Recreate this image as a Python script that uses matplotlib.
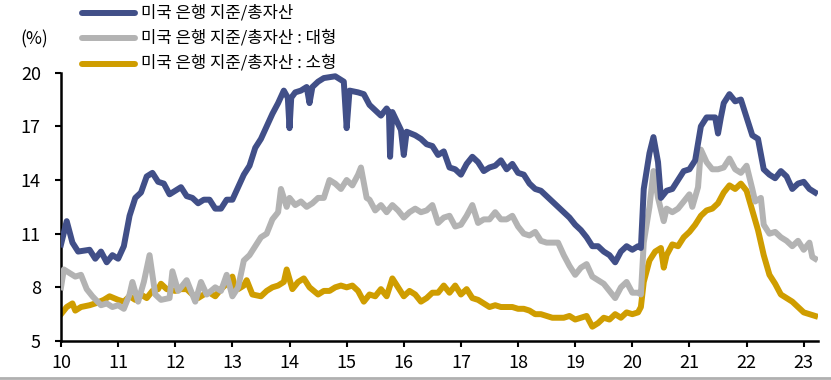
import numpy as np
import matplotlib
matplotlib.use('Agg')
import matplotlib.pyplot as plt
from matplotlib.lines import Line2D

plt.rcParams['font.family'] = ['Noto Sans CJK KR', 'DejaVu Sans']

# 미국 은행 지준/총자산 (전체) - 연도(2010=10) 기준
x_total = [10.0, 10.1, 10.2, 10.3, 10.5, 10.6, 10.7, 10.8, 10.9, 11.0, 11.1, 11.2, 11.3, 11.4, 11.5,
           11.6, 11.7, 11.8, 11.9, 12.0, 12.1, 12.2, 12.3, 12.4, 12.5, 12.6, 12.7, 12.8, 12.9, 13.0,
           13.1, 13.2, 13.3, 13.4, 13.5, 13.6, 13.7, 13.8, 13.9, 13.97, 14.0, 14.03, 14.1, 14.2, 14.3,
           14.35, 14.4, 14.5, 14.6, 14.8, 14.95, 15.0, 15.05, 15.2, 15.3, 15.4, 15.5, 15.6, 15.7,
           15.74, 15.76, 15.8, 15.95, 16.0, 16.05, 16.2, 16.3, 16.4, 16.5, 16.6, 16.7, 16.8, 16.9,
           17.0, 17.1, 17.2, 17.3, 17.4, 17.5, 17.6, 17.7, 17.8, 17.9, 18.0, 18.1, 18.2, 18.3, 18.4,
           18.5, 18.6, 18.7, 18.8, 18.9, 19.0, 19.1, 19.2, 19.3, 19.4, 19.5, 19.6, 19.7, 19.8, 19.9,
           20.0, 20.1, 20.15, 20.2, 20.3, 20.37, 20.45, 20.5, 20.6, 20.7, 20.8, 20.9, 21.0, 21.1,
           21.2, 21.3, 21.45, 21.5, 21.55, 21.6, 21.7, 21.8, 21.9, 22.0, 22.1, 22.2, 22.3, 22.4, 22.5,
           22.6, 22.7, 22.8, 22.9, 23.0, 23.1, 23.2]
y_total = [10.4, 11.7, 10.5, 10.0, 10.1, 9.6, 10.0, 9.4, 9.8, 9.6, 10.3, 12.0, 13.0, 13.3, 14.2,
           14.4, 13.9, 13.8, 13.2, 13.4, 13.6, 13.1, 13.0, 12.7, 12.9, 12.9, 12.4, 12.4, 12.9, 12.9,
           13.6, 14.3, 14.8, 15.8, 16.3, 17.0, 17.7, 18.3, 19.0, 18.6, 16.9, 18.6, 18.9, 19.0, 19.2,
           18.3, 19.2, 19.5, 19.7, 19.8, 19.5, 16.9, 19.0, 18.9, 18.8, 18.2, 17.9, 17.6, 18.0,
           17.8, 15.3, 17.8, 16.8, 15.4, 16.7, 16.5, 16.3, 16.0, 15.9, 15.4, 15.6, 14.7, 14.6,
           14.3, 14.9, 15.3, 15.0, 14.5, 14.7, 14.8, 15.1, 14.6, 14.9, 14.4, 14.3, 13.8, 13.5, 13.4,
           13.1, 12.8, 12.5, 12.2, 11.9, 11.5, 11.2, 10.8, 10.3, 10.3, 10.0, 9.8, 9.4, 10.0, 10.3,
           10.1, 10.3, 10.2, 13.5, 15.5, 16.4, 15.0, 13.0, 13.4, 13.5, 14.0, 14.5, 14.6, 15.1,
           17.0, 17.5, 17.5, 16.6, 17.5, 18.3, 18.8, 18.4, 18.5, 17.5, 16.5, 16.3, 14.6, 14.3, 14.1,
           14.5, 14.2, 13.5, 13.8, 13.9, 13.5, 13.3]

# 대형 은행
x_large = [10.0, 10.05, 10.15, 10.25, 10.35, 10.45, 10.55, 10.7, 10.8, 10.9, 11.0, 11.1, 11.2, 11.25,
           11.35, 11.45, 11.55, 11.65, 11.75, 11.9, 11.95, 12.05, 12.2, 12.3, 12.35, 12.45, 12.55,
           12.7, 12.8, 12.9, 13.0, 13.1, 13.2, 13.3, 13.4, 13.5, 13.6, 13.7, 13.8, 13.85, 13.95,
           14.0, 14.1, 14.2, 14.3, 14.4, 14.5, 14.6, 14.7, 14.8, 14.9, 15.0, 15.1, 15.2, 15.25,
           15.35, 15.4, 15.5, 15.6, 15.7, 15.8, 15.9, 16.0, 16.1, 16.2, 16.3, 16.4, 16.5, 16.6,
           16.7, 16.8, 16.9, 17.0, 17.1, 17.2, 17.3, 17.4, 17.5, 17.6, 17.7, 17.8, 17.9, 18.0,
           18.1, 18.2, 18.3, 18.4, 18.5, 18.6, 18.7, 18.8, 18.9, 19.0, 19.1, 19.2, 19.3, 19.4,
           19.5, 19.6, 19.7, 19.8, 19.9, 20.0, 20.1, 20.15, 20.2, 20.3, 20.37, 20.45, 20.55, 20.6,
           20.7, 20.8, 20.9, 21.0, 21.05, 21.15, 21.2, 21.3, 21.4, 21.5, 21.6, 21.7, 21.8, 21.9,
           22.0, 22.1, 22.15, 22.25, 22.3, 22.4, 22.5, 22.6, 22.7, 22.8, 22.9, 23.0, 23.1, 23.15, 23.2]
y_large = [8.0, 9.0, 8.8, 8.6, 8.7, 7.9, 7.5, 7.0, 7.1, 6.9, 7.0, 6.8, 7.6, 8.3,
           7.2, 8.3, 9.8, 7.6, 7.3, 7.4, 8.9, 7.8, 8.4, 7.6, 7.2, 8.3, 7.6,
           8.0, 7.8, 8.7, 7.5, 8.0, 9.5, 9.8, 10.3, 10.8, 11.0, 11.8, 12.2, 13.5, 12.5,
           13.0, 12.6, 12.8, 12.5, 12.7, 13.0, 13.0, 14.0, 13.8, 13.5, 14.0, 13.7, 14.3, 14.7,
           13.0, 12.9, 12.3, 12.6, 12.2, 12.6, 12.3, 11.9, 12.2, 12.4, 12.2, 12.3, 12.6, 11.6,
           11.9, 12.0, 11.4, 11.5, 12.0, 12.6, 11.6, 11.8, 11.8, 12.2, 11.8, 11.8, 12.0, 11.4,
           11.0, 10.9, 11.1, 10.6, 10.5, 10.5, 10.5, 9.8, 9.2, 8.7, 9.1, 9.3, 8.6, 8.4,
           8.2, 7.8, 7.4, 8.0, 8.3, 7.7, 7.7, 7.6, 10.5, 12.5, 14.5, 13.0, 11.7, 12.4,
           12.2, 12.4, 12.8, 13.2, 12.5, 13.6, 15.7, 15.0, 14.6, 14.6, 14.7, 15.2, 14.6, 14.4,
           14.8, 13.5, 12.8, 13.0, 11.5, 11.0, 11.1, 10.8, 10.6, 10.3, 10.6, 10.1, 10.5, 9.7, 9.6]

# 소형 은행
x_small = [10.0, 10.1, 10.2, 10.25, 10.35, 10.5, 10.6, 10.75, 10.85, 11.0, 11.1, 11.2, 11.3, 11.4,
           11.5, 11.6, 11.7, 11.75, 11.85, 12.0, 12.1, 12.2, 12.3, 12.4, 12.5, 12.6, 12.7, 12.8,
           12.9, 13.0, 13.05, 13.1, 13.2, 13.25, 13.35, 13.5, 13.6, 13.7, 13.8, 13.9, 13.95,
           14.05, 14.15, 14.25, 14.35, 14.5, 14.6, 14.7, 14.8, 14.9, 15.0, 15.1, 15.2, 15.3, 15.4,
           15.5, 15.6, 15.7, 15.8, 15.9, 16.0, 16.1, 16.2, 16.3, 16.4, 16.5, 16.6, 16.7, 16.8,
           16.9, 17.0, 17.1, 17.2, 17.3, 17.4, 17.5, 17.6, 17.7, 17.8, 17.9, 18.0, 18.1, 18.2,
           18.3, 18.4, 18.5, 18.6, 18.7, 18.8, 18.9, 19.0, 19.1, 19.2, 19.3, 19.4, 19.5, 19.6,
           19.7, 19.8, 19.9, 20.0, 20.1, 20.15, 20.2, 20.3, 20.4, 20.5, 20.55, 20.6, 20.7, 20.8,
           20.9, 21.0, 21.1, 21.2, 21.3, 21.4, 21.5, 21.6, 21.7, 21.8, 21.9, 22.0, 22.1, 22.2,
           22.3, 22.4, 22.5, 22.6, 22.7, 22.8, 22.9, 23.0, 23.1, 23.2]
y_small = [6.5, 6.9, 7.1, 6.7, 6.9, 7.0, 7.1, 7.3, 7.5, 7.3, 7.2, 7.5, 7.3, 7.6,
           7.4, 7.8, 7.9, 8.2, 7.9, 7.8, 7.9, 7.9, 7.6, 7.4, 7.6, 7.7, 7.5, 7.9,
           8.2, 8.6, 7.9, 7.9, 8.1, 8.4, 7.6, 7.5, 7.8, 8.0, 8.1, 8.3, 9.0,
           7.9, 8.3, 8.5, 8.0, 7.6, 7.8, 7.8, 8.0, 8.1, 8.0, 8.1, 7.8, 7.2, 7.6,
           7.5, 7.9, 7.5, 8.5, 8.0, 7.5, 7.8, 7.6, 7.2, 7.4, 7.7, 7.7, 8.1, 7.7,
           8.1, 7.6, 7.9, 7.4, 7.3, 7.1, 6.9, 7.0, 6.9, 6.9, 6.9, 6.8, 6.8, 6.7,
           6.5, 6.5, 6.4, 6.3, 6.3, 6.3, 6.4, 6.2, 6.3, 6.4, 5.8, 6.0, 6.3, 6.2,
           6.5, 6.3, 6.6, 6.5, 6.6, 6.9, 8.3, 9.5, 10.0, 10.2, 9.1, 9.8, 10.4, 10.3,
           10.8, 11.1, 11.5, 12.0, 12.3, 12.4, 12.7, 13.3, 13.7, 13.5, 13.8, 13.4, 12.3, 11.2,
           9.8, 8.7, 8.2, 7.6, 7.4, 7.2, 6.9, 6.6, 6.5, 6.4]

years = list(range(10, 24))
labels = ['미국 은행 지준/총자산', '미국 은행 지준/총자산 : 대형', '미국 은행 지준/총자산 : 소형']
colors = ['#414F88', '#B3B3B3', '#CF9D00']

W, H = 831, 380
fig = plt.figure(figsize=(W / 100, H / 100), dpi=100)
ax = fig.add_axes([61 / W, 39 / H, (818 - 61) / W, (341 - 72.7) / H])

lw = 4.3
ax.plot(x_small, y_small, color=colors[2], lw=lw, solid_joinstyle='round', zorder=2)
ax.plot(x_large, y_large, color=colors[1], lw=lw, solid_joinstyle='round', zorder=3)
ax.plot(x_total, y_total, color=colors[0], lw=lw, solid_joinstyle='round', zorder=4)

ax.set_xlim(10, 23.25)
ax.set_ylim(5, 20)
ax.set_yticks([5, 8, 11, 14, 17, 20])
ax.set_xticks(years)
ax.set_xticklabels([str(y) for y in years])
ax.tick_params(axis='both', labelsize=13, width=1.5, length=4.5, direction='out', color='black')
ax.tick_params(axis='y', pad=10)
ax.tick_params(axis='x', pad=5)
for s in ['top', 'right']:
    ax.spines[s].set_visible(False)
for s in ['left', 'bottom']:
    ax.spines[s].set_linewidth(1.8)

# 범례 (수동 배치)
for i, (lab, c) in enumerate(zip(labels, colors)):
    yy = 1 - (12.5 + 25.5 * i) / H
    fig.add_artist(Line2D([82 / W, 135 / W], [yy, yy], color=c, lw=lw,
                          solid_capstyle='round', transform=fig.transFigure))
    fig.text(141 / W, yy, lab, fontsize=12, va='center', ha='left')

fig.text(20 / W, 1 - 39 / H, '(%)', fontsize=12.5, va='center', ha='left')

# 하단 구분선
fig.add_artist(Line2D([0, 1], [0.006, 0.006], color='#B0B0B0', lw=2, transform=fig.transFigure))

fig.savefig('out.png', dpi=100)
